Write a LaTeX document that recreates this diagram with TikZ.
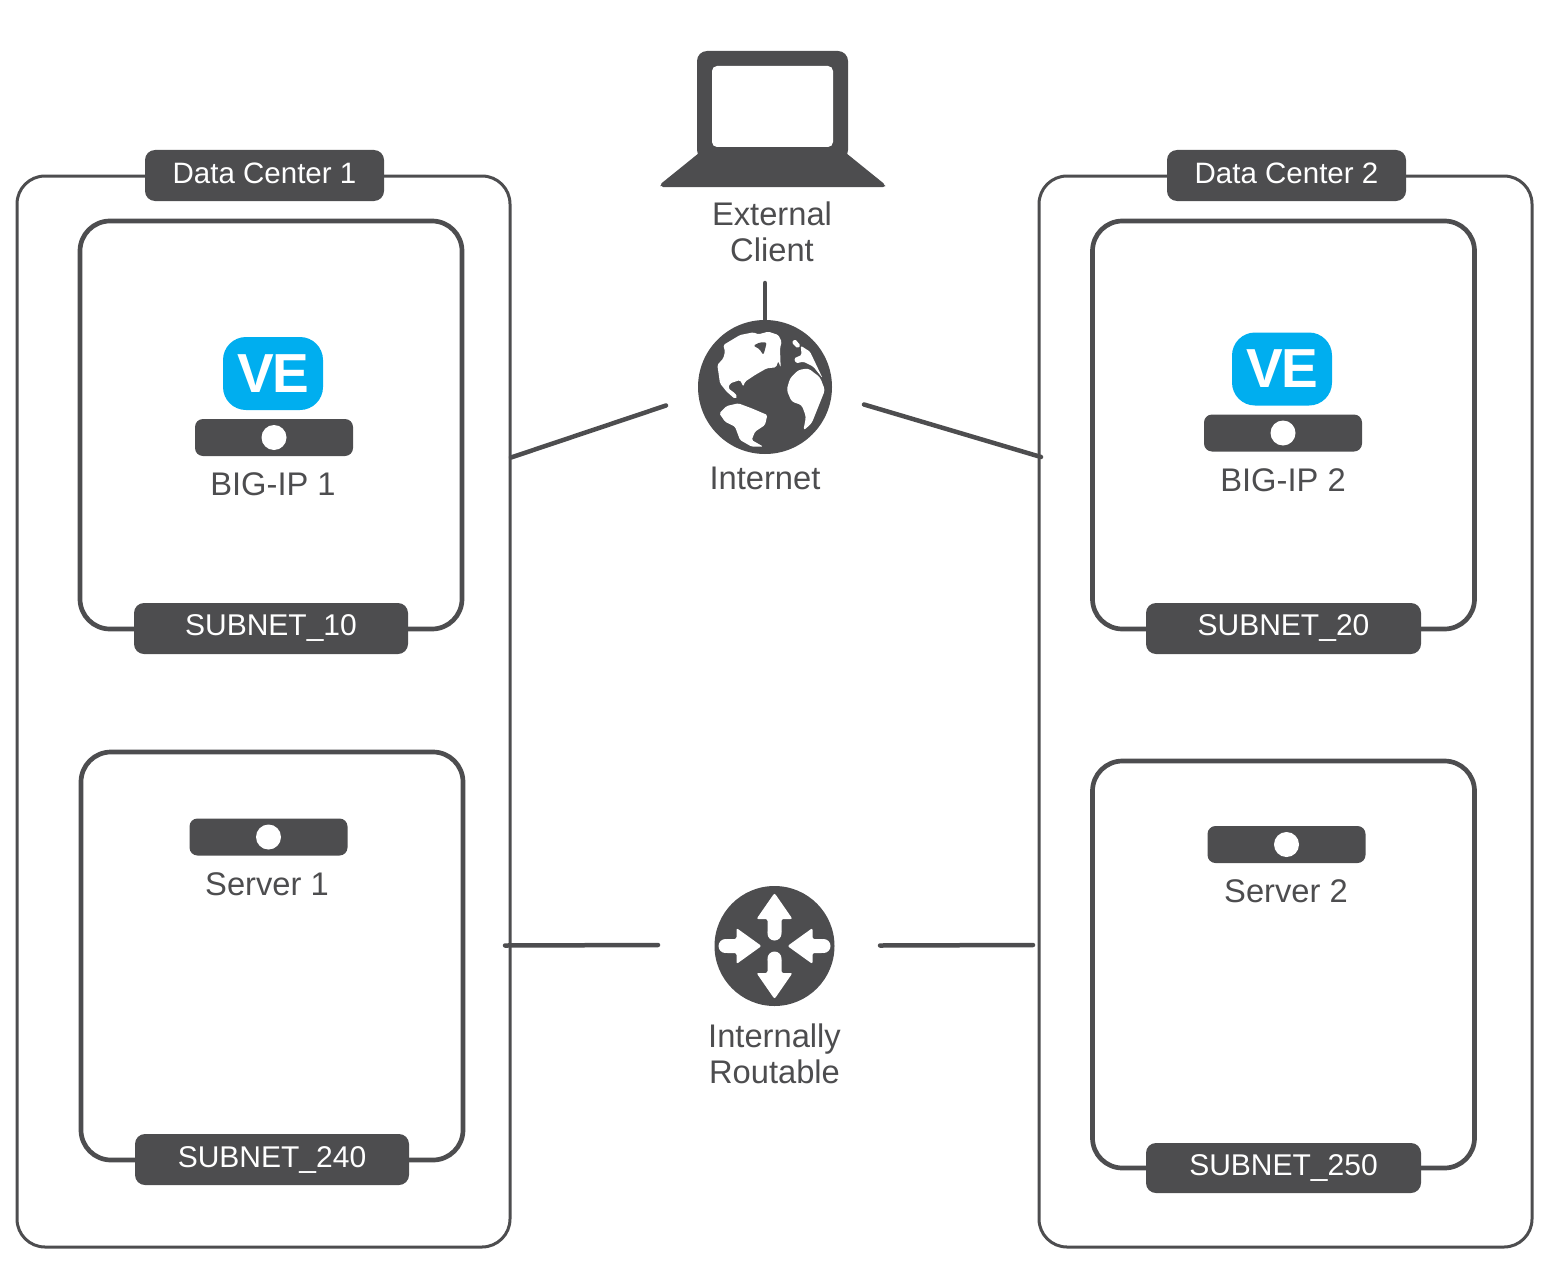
\documentclass[tikz,border=0pt]{standalone}
\usepackage{fontspec}
\setmainfont{Liberation Sans}
\usepackage{xcolor}
\definecolor{dgrey}{HTML}{4D4D4F}
\definecolor{veblue}{HTML}{00AEEF}
\tikzstyle{dcbox}=[draw=dgrey,line width=3pt,rounded corners=28pt,inner sep=0pt,outer sep=0pt]
\tikzstyle{netbox}=[draw=dgrey,line width=4.7pt,rounded corners=30pt,inner sep=0pt,outer sep=0pt]
\tikzstyle{tagbox}=[fill=dgrey,text=white,rounded corners=10pt,inner sep=0pt,outer sep=0pt,font=\fontsize{30}{36}\selectfont,minimum height=51pt]
\tikzstyle{dctag}=[tagbox,minimum width=239pt,font=\fontsize{29.5}{36}\selectfont,text depth=5pt]
\tikzstyle{lab}=[text=dgrey,inner sep=0pt,align=center,font=\fontsize{32.7}{36}\selectfont]
\tikzstyle{bar}=[fill=dgrey,rounded corners=8pt,inner sep=0pt,outer sep=0pt,minimum width=158pt,minimum height=37pt]
\tikzstyle{ve}=[fill=veblue,text=white,rounded corners=23pt,inner sep=0pt,outer sep=0pt,minimum width=100pt,minimum height=73pt,font=\fontsize{55}{55}\selectfont\bfseries]
\tikzstyle{link}=[draw=dgrey,line width=4.5pt,line cap=round]
\begin{document}
\begin{tikzpicture}[x=1pt,y=-1pt]
	\useasboundingbox (0,0) rectangle (1566,1279);
	\node[dcbox,minimum width=493pt,minimum height=1071pt] (dcone) at (263.5,711.5) {};
	\node[dcbox,minimum width=493pt,minimum height=1071pt] (dctwo) at (1285.5,711.5) {};
	\node[dctag] (dconetag) at (264.5,175.5) {Data Center 1};
	\node[dctag] (dctwotag) at (1286.5,175.5) {Data Center 2};
	\node[netbox,minimum width=382pt,minimum height=408pt] (netten) at (271,425) {};
	\node[netbox,minimum width=382pt,minimum height=408pt] (nettwenty) at (1283.5,425) {};
	\node[netbox,minimum width=382pt,minimum height=408pt] (nettwoforty) at (272,956) {};
	\node[netbox,minimum width=382pt,minimum height=407pt] (nettwofifty) at (1283.5,964.5) {};
	\node[tagbox,minimum width=274pt] (tagten) at (271,628.5) {SUBNET\_10};
	\node[tagbox,minimum width=275pt] (tagtwenty) at (1283.5,628.5) {SUBNET\_20};
	\node[tagbox,minimum width=274pt] (tagtwoforty) at (272,1159.5) {SUBNET\_240};
	\node[tagbox,minimum width=275pt,minimum height=50pt] (tagtwofifty) at (1283.5,1168) {SUBNET\_250};
	% appliances
	\node[ve] (veone) at (273,373.5) {V\kern-2pt E};
	\node[ve] (vetwo) at (1282,369) {V\kern-2pt E};
	\node[bar] (bigipone) at (274,437.5) {};
	\node[bar] (bigiptwo) at (1283,433) {};
	\node[bar] (serverone) at (268.5,837) {};
	\node[bar] (servertwo) at (1286.5,844.5) {};
	\foreach \b in {bigipone,bigiptwo,serverone,servertwo}
		\fill[white] (\b.center) circle (12.5);
	\node[lab] (bigiponelab) at (273,484.5) {BIG-IP 1};
	\node[lab] (bigiptwolab) at (1283,480.5) {BIG-IP 2};
	\node[lab] (serveronelab) at (267,884.5) {Server 1};
	\node[lab] (servertwolab) at (1286,891.5) {Server 2};
	% laptop
	\fill[dgrey,rounded corners=10pt] (697,51) rectangle (848,160);
	\fill[dgrey,rounded corners=2pt] (699,153) -- (660,184.5) -- (661,187) -- (885,187) -- (885,184.5) -- (846,153) -- cycle;
	\fill[white,rounded corners=5pt] (712,66) rectangle (833,147);
	\node[lab] (client) at (772,231.5) {External\\Client};
	% globe
	\node[circle,fill=dgrey,inner sep=0pt,outer sep=0pt,minimum size=134pt] (globe) at (765,387) {};
	\begin{scope}[shift={(710,325)},scale=1/3]
		\fill[white,rounded corners=1.5pt] (40,60) -- (90,30) -- (130,22) -- (145,28) -- (175,20) -- (205,30) -- (215,50) -- (210,70) -- (212,128) -- (205,108) -- (198,127) -- (170,130) -- (135,150) -- (105,170) -- (100,185) -- (90,165) -- (60,175) -- (55,190) -- (75,205) -- (82,215) -- (75,222) -- (50,200) -- (30,175) -- (22,120) -- (40,100) -- (45,80) -- cycle;
		\fill[dgrey,rounded corners=1.5pt] (130,62) -- (150,52) -- (170,52) -- (166,70) -- (160,90) -- (148,72) -- cycle;
		\fill[white,rounded corners=1.5pt] (245,52) -- (255,42) -- (272,62) -- (262,70) -- cycle;
		\fill[white,rounded corners=1.5pt] (272,62) -- (300,80) -- (338,160) -- (310,125) -- (280,110) -- (258,115) -- (252,100) -- (275,90) -- cycle;
	\end{scope}
	\begin{scope}[shift={(680,300)},scale=1/3]
		\fill[white,rounded corners=1.5pt] (118,340) -- (140,318) -- (175,310) -- (215,325) -- (262,345) -- (255,375) -- (225,395) -- (215,420) -- (250,440) -- (215,440) -- (180,420) -- (165,380) -- (135,365) -- cycle;
		\fill[white,rounded corners=3pt] (355,210) -- (385,205) -- (420,232) -- (435,270) -- (415,320) -- (395,370) -- (370,392) -- (378,350) -- (365,315) -- (335,305) -- (320,270) -- (330,235) -- cycle;
	\end{scope}
	\node[lab] (internet) at (765,478) {Internet};
	% router
	\node[circle,fill=dgrey,inner sep=0pt,outer sep=0pt,minimum size=120pt] (router) at (774.5,946) {};
	\foreach \a in {0,180} {
		\begin{scope}[shift={(router.center)},rotate=\a]
			\fill[white,rounded corners=2pt] (0,-53) -- (18,-27) -- (7,-27) -- (7,-12) -- (-7,-12) -- (-7,-27) -- (-18,-27) -- cycle;
			\fill[white] (0,-12.5) circle (7);
		\end{scope}
	}
	\foreach \a in {90,270} {
		\begin{scope}[shift={(router.center)},rotate=\a]
			\fill[white,rounded corners=2pt] (0,-13) -- (18,-38) -- (7,-38) -- (7,-49) -- (-7,-49) -- (-7,-38) -- (-18,-38) -- cycle;
			\fill[white] (0,-49) circle (7);
		\end{scope}
	}
	\node[lab] (routerlab) at (774.5,1054) {Internally\\Routable};
	% links
	\coordinate (clientend) at (765,283);
	\coordinate (dconeup) at (511,457.5);
	\coordinate (globeleft) at (666,405.5);
	\coordinate (globeright) at (864,404.5);
	\coordinate (dctwoup) at (1041,457);
	\coordinate (dconedown) at (505,945.5);
	\coordinate (routerleft) at (658,945);
	\coordinate (routerright) at (880,945.5);
	\coordinate (dctwodown) at (1033,945);
	\draw[link] (clientend) -- (globe.north);
	\draw[link] (dconeup) -- (globeleft);
	\draw[link] (globeright) -- (dctwoup);
	\draw[link] (dconedown) -- (routerleft);
	\draw[link] (routerright) -- (dctwodown);
\end{tikzpicture}
\end{document}
